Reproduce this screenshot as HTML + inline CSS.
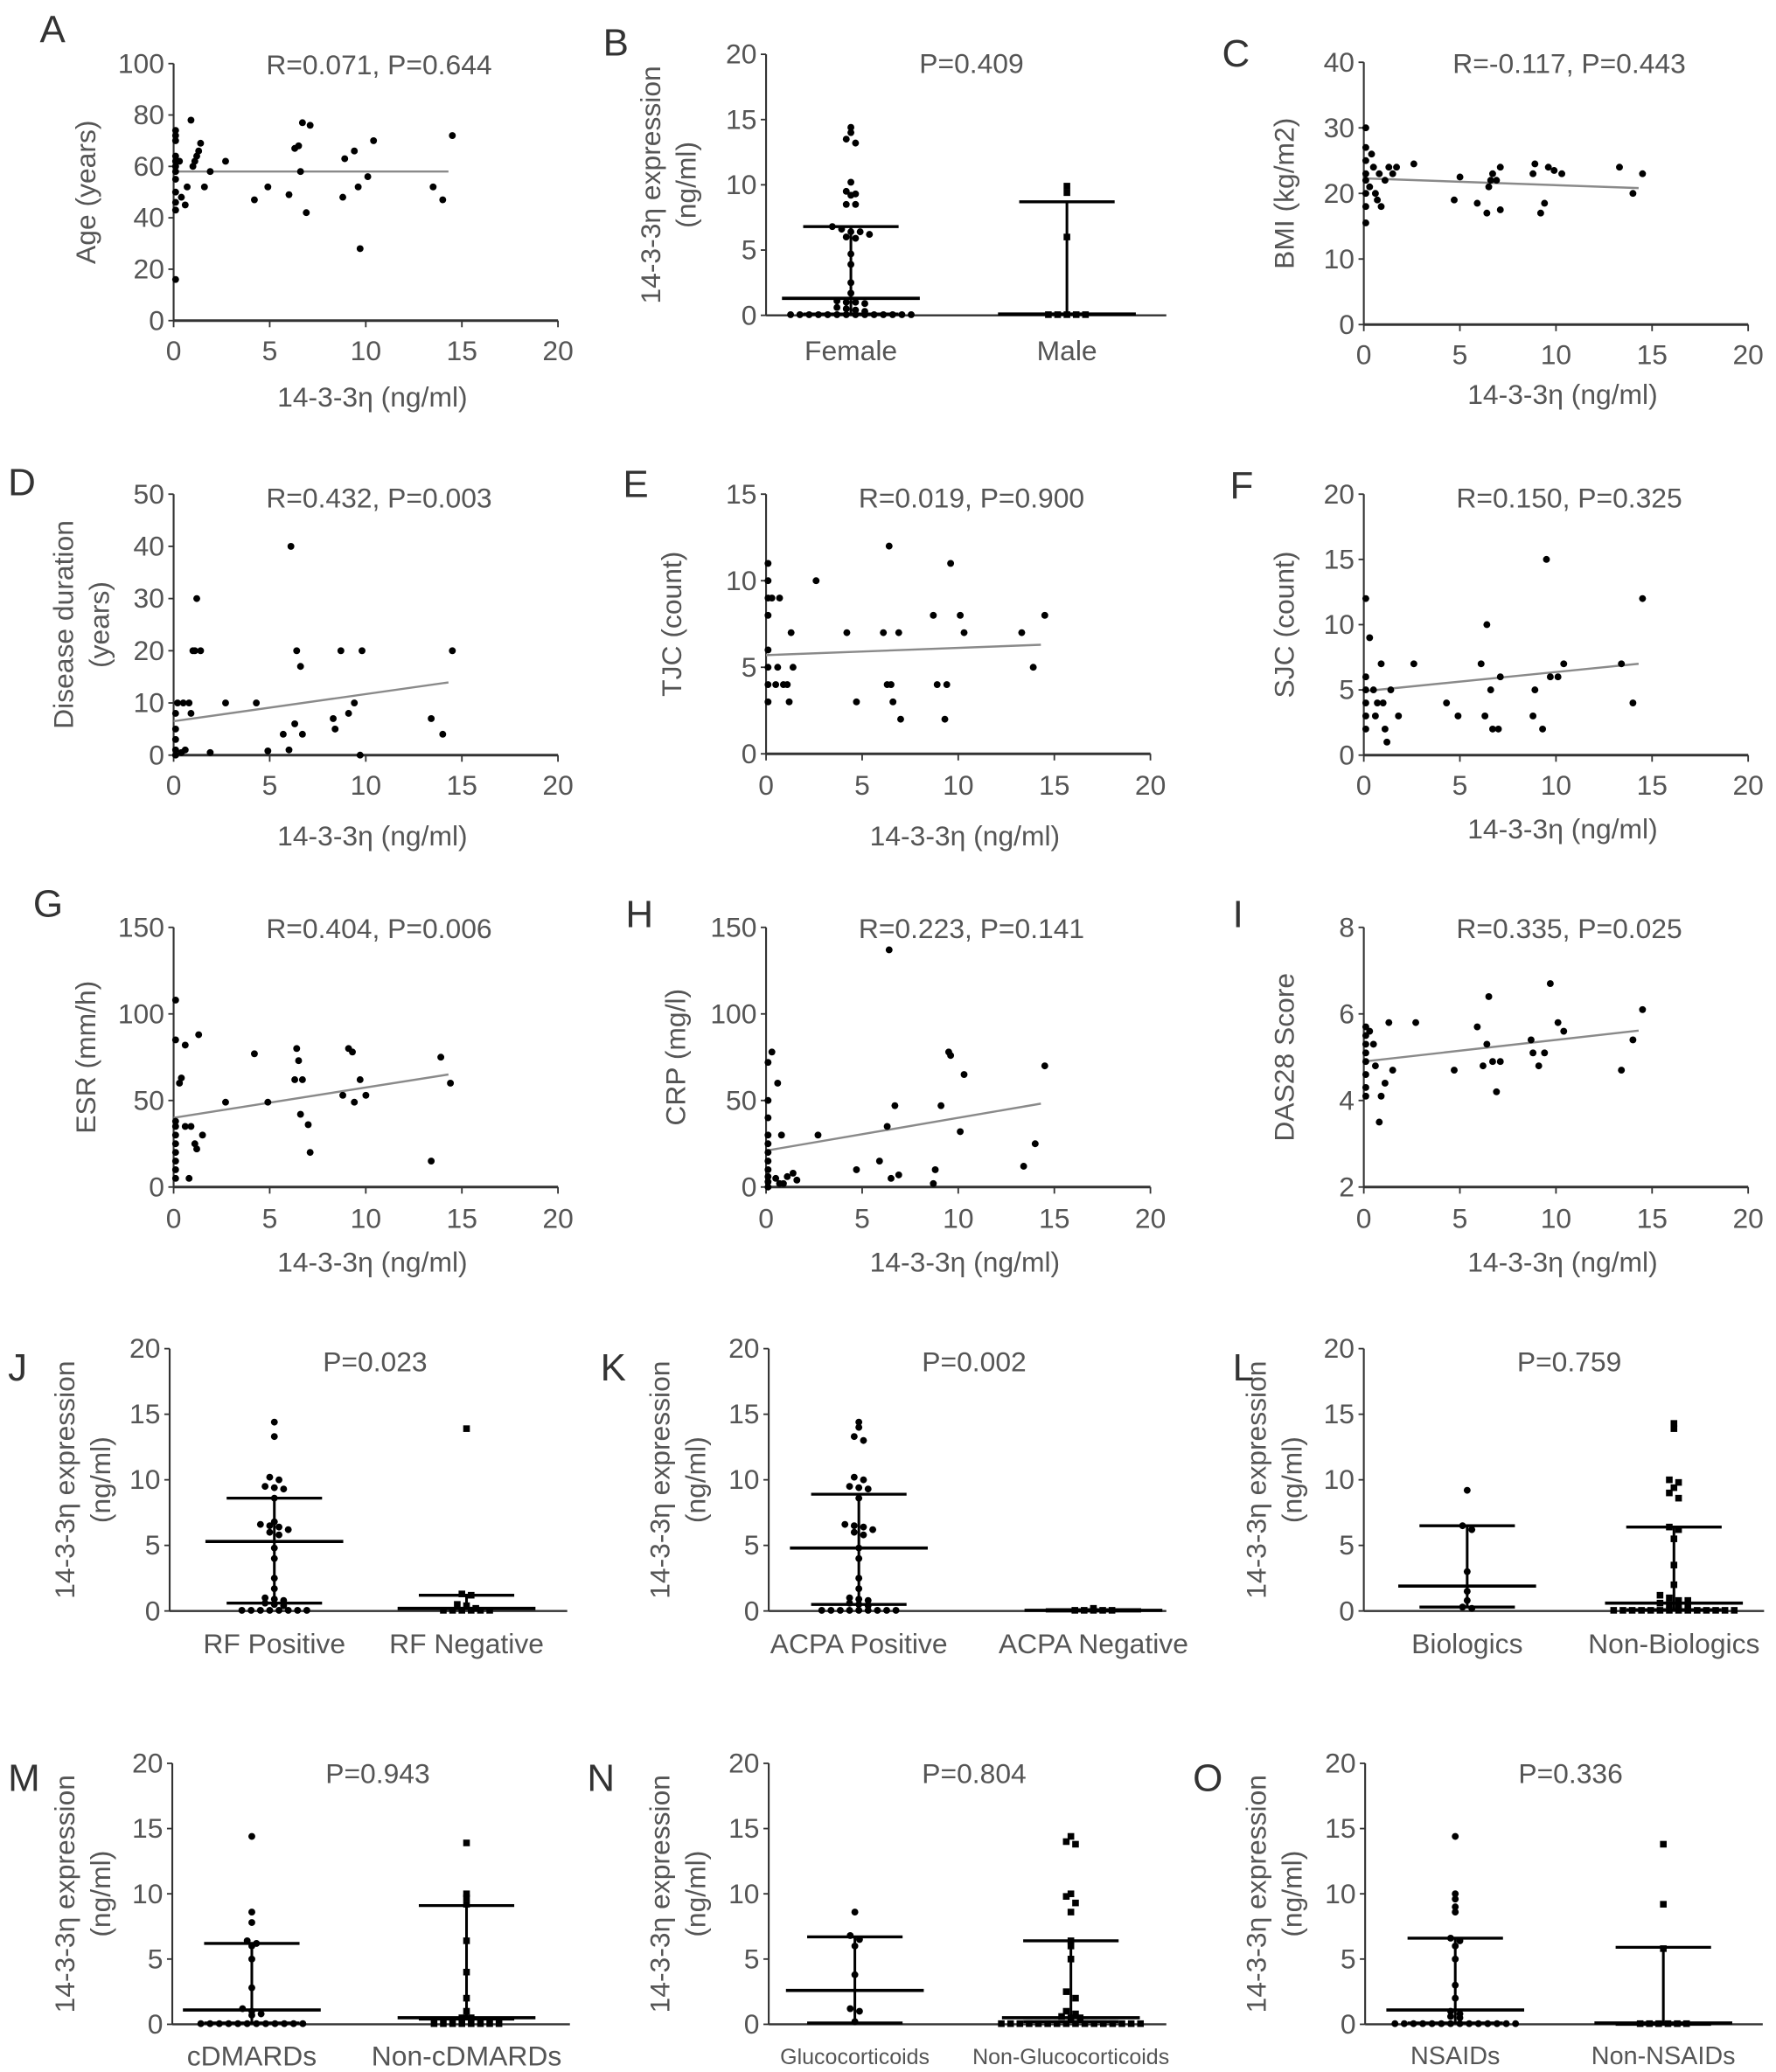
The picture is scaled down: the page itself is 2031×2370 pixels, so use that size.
<!DOCTYPE html>
<html><head><meta charset="utf-8"><style>
html,body{margin:0;padding:0;background:#fff;}
svg{display:block;}
text{font-family:"Liberation Sans",sans-serif;fill:#555;}
</style></head><body>
<svg id="fig" xmlns="http://www.w3.org/2000/svg" width="2031" height="2370" viewBox="0 0 1340 1564" preserveAspectRatio="none"></svg>
<script>
// ---------- data: scatter panels (x = 14-3-3η ng/ml, y = clinical variable) ----------
const ageData=[[0,16],[0,43],[0,46],[0,50],[0,55],[0,58],[0,60],[0,62],[0,64],[0,70],[0,72],[0,74],[0.2,62],[0.3,48],[0.5,45],[0.6,52],[0.8,78],[0.9,60],[1,62],[1.1,64],[1.2,66],[1.3,69],[1.5,52],[1.8,58],[2.6,62],[4.1,47],[4.8,52],[5.9,49],[6.2,67],[6.4,68],[6.5,58],[6.6,77],[6.8,42],[7,76],[8.7,48],[8.8,63],[9.3,66],[9.5,52],[9.6,28],[10,56],[10.3,70],[13.4,52],[13.9,47],[14.4,72]];
const ageFit=[58,0];
const bmiData=[[0,15.5],[0,18],[0,20],[0,22],[0,23],[0,25],[0,27],[0,30],[0.2,21],[0.3,26],[0.4,24],[0.5,20],[0.6,19],[0.7,23],[0.8,18],[1,22],[1.2,24],[1.4,23],[1.6,24],[2.5,24.5],[4.6,19],[4.9,22.5],[5.8,18.5],[6.3,17],[6.4,21],[6.5,22],[6.6,23],[6.8,22],[7,24],[7,17.5],[8.7,23],[8.8,24.5],[9.1,17],[9.3,18.5],[9.5,24],[9.8,23.5],[10.2,23],[13.2,24],[13.9,20],[14.4,23]];
const bmiFit=[22.3,-0.104];
const durData=[[0,0],[0,1],[0,3],[0,5],[0,8],[0.1,10],[0.3,0.5],[0.4,10],[0.5,1],[0.7,10],[0.8,8],[0.9,20],[1,20],[1.1,30],[1.3,20],[1.8,0.5],[2.6,10],[4.2,10],[4.8,0.8],[5.6,4],[5.9,1],[6,40],[6.2,6],[6.3,20],[6.5,17],[6.6,4],[8.2,7],[8.3,5],[8.6,20],[9,8],[9.3,10],[9.7,20],[9.6,0],[13.3,7],[13.9,4],[14.4,20]];
const durFit=[6.5,0.52];
const tjcData=[[0,3],[0,4],[0,5],[0,6],[0,8],[0,9],[0,10],[0,11],[0.2,9],[0.4,4],[0.5,5],[0.6,9],[0.8,4],[1,4],[1.1,3],[1.2,7],[1.3,5],[2.5,10],[4.1,7],[4.6,3],[6,7],[6.2,4],[6.3,12],[6.4,4],[6.5,3],[6.8,7],[6.9,2],[8.6,8],[8.8,4],[9.2,2],[9.3,4],[9.5,11],[10,8],[10.2,7],[13.2,7],[13.8,5],[14.4,8]];
const tjcFit=[5.7,0.042];
const sjcData=[[0,2],[0,3],[0,4],[0,5],[0,6],[0,12],[0.2,9],[0.4,5],[0.5,3],[0.6,4],[0.8,7],[0.9,4],[1,2],[1.1,1],[1.3,5],[1.7,3],[2.5,7],[4.2,4],[4.8,3],[6,7],[6.2,3],[6.3,10],[6.5,5],[6.6,2],[6.9,2],[7,6],[8.7,3],[8.8,5],[9.2,2],[9.4,15],[9.6,6],[10,6],[10.3,7],[13.3,7],[13.9,4],[14.4,12]];
const sjcFit=[4.9,0.147];
const esrData=[[0,5],[0,10],[0,15],[0,20],[0,25],[0,30],[0,35],[0,38],[0,85],[0,108],[0.2,60],[0.3,63],[0.5,35],[0.5,82],[0.7,5],[0.8,35],[1,25],[1.1,22],[1.2,88],[1.4,30],[2.6,49],[4.1,77],[4.8,49],[6.2,62],[6.3,80],[6.4,73],[6.5,42],[6.6,62],[6.9,36],[7,20],[8.7,53],[9,80],[9.2,78],[9.3,49],[9.6,62],[9.9,53],[13.3,15],[13.8,75],[14.3,60]];
const esrFit=[40,1.75];
const crpData=[[0,0],[0,3],[0,6],[0,10],[0,15],[0,20],[0,25],[0,30],[0,40],[0,50],[0,72],[0.2,78],[0.4,5],[0.5,60],[0.6,2],[0.7,30],[0.8,2],[1,6],[1.3,8],[1.5,4],[2.6,30],[4.6,10],[5.8,15],[6.2,35],[6.3,137],[6.4,5],[6.6,47],[6.8,7],[8.6,2],[8.7,10],[9,47],[9.4,78],[9.5,76],[10,32],[10.2,65],[13.3,12],[13.9,25],[14.4,70]];
const crpFit=[21,1.9];
const dasData=[[0,4.1],[0,4.3],[0,4.6],[0,4.9],[0,5.1],[0,5.3],[0,5.5],[0,5.7],[0.2,5.6],[0.4,5.3],[0.5,4.8],[0.7,3.5],[0.8,4.1],[1,4.4],[1.2,5.8],[1.4,4.7],[2.6,5.8],[4.6,4.7],[5.8,5.7],[6.1,4.8],[6.3,5.3],[6.4,6.4],[6.6,4.9],[6.8,4.2],[7,4.9],[8.6,5.4],[8.7,5.1],[9,4.8],[9.3,5.1],[9.6,6.7],[10,5.8],[10.3,5.6],[13.3,4.7],[13.9,5.4],[14.4,6.1]];
const dasFit=[4.9,0.05];
const fitXRange=[0,14.3];

// ---------- data: group panels (values ng/ml; stats = [q1, median, q3]) ----------
const zeros=n=>Array(n).fill(0.05);
const sexCats=["Female","Male"];
const sexVals=[[14.4,14.0,13.5,13.2,10.2,9.5,9.3,9.2,8.5,8.5,6.8,6.6,6.4,6.4,6.2,6.0,5.9,4.7,3.9,2.5,1.7,1.1,1.0,1.0,0.9,0.6,0.5,0.4,0.3].concat(zeros(14)),[9.9,9.4,6.0].concat(zeros(5))];
const sexStats=[[0.1,1.3,6.8],[0.1,0.1,8.7]];
const rfCats=["RF Positive","RF Negative"];
const rfVals=[[14.4,13.3,10.2,10.0,9.5,9.4,9.3,8.6,6.8,6.6,6.5,6.4,6.2,6.0,5.8,4.8,4.0,2.5,1.7,1.0,0.9,0.8,0.6,0.5,0.4].concat(zeros(8)),[13.9,1.3,1.2,0.5,0.4,0.2].concat(zeros(6))];
const rfStats=[[0.6,5.3,8.6],[0.2,0.2,1.2]];
const acpaCats=["ACPA Positive","ACPA Negative"];
const acpaVals=[[14.4,14.0,13.3,13.0,10.2,10.0,9.5,9.4,9.3,8.6,6.6,6.5,6.4,6.2,6.0,5.8,4.8,4.0,2.5,1.7,1.0,0.9,0.8,0.6,0.5,0.4].concat(zeros(9)),[0.2].concat(zeros(5))];
const acpaStats=[[0.5,4.8,8.9],[0,0.05,0.1]];
const bioCats=["Biologics","Non-Biologics"];
const bioVals=[[9.2,6.5,6.2,3.0,1.5,0.8,0.3,0.2],[14.3,13.9,10.0,9.8,9.4,9.0,8.6,6.4,6.2,5.5,3.5,2.0,1.2,1.0,0.8,0.8,0.6,0.5,0.4,0.4].concat(zeros(14))];
const bioStats=[[0.3,1.9,6.5],[0.1,0.6,6.4]];
const dmardCats=["cDMARDs","Non-cDMARDs"];
const dmardVals=[[14.4,8.6,7.8,6.4,6.2,6.0,5.0,2.8,1.2,1.0,0.8,0.7].concat(zeros(12)),[13.9,10.0,9.7,9.2,6.4,4.0,2.0,1.0,0.5,0.5].concat(zeros(8))];
const dmardStats=[[0.1,1.1,6.2],[0.4,0.5,9.1]];
const gcCats=["Glucocorticoids","Non-Glucocorticoids"];
const gcVals=[[8.6,6.8,6.5,6.0,3.8,1.2,1.0,0.2],[14.4,14.0,13.8,10.0,9.8,9.3,8.6,6.4,6.0,5.0,2.5,2.0,1.0,0.8,0.6,0.5,0.5].concat(zeros(16))];
const gcStats=[[0.1,2.6,6.7],[0.2,0.5,6.4]];
const nsaidCats=["NSAIDs","Non-NSAIDs"];
const nsaidVals=[[14.4,10.0,9.6,9.0,8.6,6.6,6.4,6.0,5.0,3.0,2.0,1.0,0.8,0.6,0.5].concat(zeros(14)),[13.8,9.2,5.8].concat(zeros(6))];
const nsaidStats=[[0.1,1.1,6.6],[0,0.1,5.9]];

const pTexts={B:"P=0.409",J:"P=0.023",K:"P=0.002",L:"P=0.759",M:"P=0.943",N:"P=0.804",O:"P=0.336"};

const svg=document.getElementById('fig');
const NS="http://www.w3.org/2000/svg";
function mk(tag,attrs,parent,txt){const e=document.createElementNS(NS,tag);for(const k in attrs)e.setAttribute(k,attrs[k]);if(txt!==undefined)e.textContent=txt;(parent||svg).appendChild(e);return e;}

function yAxis(g,p,ticks){
  const sy=v=>p.yb-(v-p.ymin)/(p.ymax-p.ymin)*(p.yb-p.yt);
  const ax=mk('line',{x1:p.ax,y1:p.yt,x2:p.ax,y2:p.yb,stroke:'#333','stroke-width':1.4},g);
  
  
  ticks.forEach(t=>{
    const tk=mk('line',{x1:p.ax-4,y1:sy(t),x2:p.ax,y2:sy(t),stroke:'#333','stroke-width':1.2},g);
    
    
    const tl=mk('text',{x:p.ax-7,y:sy(t)+7,'text-anchor':'end','font-size':21},g,String(t));
    
    
  });
  const cy=(p.yt+p.yb)/2;
  p.ytitle.forEach((s,i)=>{
    const x=p.ytx+i*27;
    const t=mk('text',{x:x,y:cy,'text-anchor':'middle','font-size':21,transform:`rotate(-90 ${x} ${cy})`},g,s);
    
    
  });
  return sy;
}
function common(g,p){
  const l=mk('text',{x:p.lx,y:p.ly,'font-size':29,style:'fill:#333'},g,p.id);
  
  
  const t=mk('text',{x:p.ax+155,y:p.ty,'text-anchor':'middle','font-size':21},g,p.title);
  
  
}

function scatter(p,data,fit,ticks){
  const g=mk('g',{});
  
  
  common(g,p);
  const sy=yAxis(g,p,ticks);
  const sx=v=>p.ax+v/20*290;
  const xl=mk('line',{x1:p.ax,y1:p.yb,x2:sx(20),y2:p.yb,stroke:'#333','stroke-width':2},g);
  
  
  [0,5,10,15,20].forEach(t=>{
    const tk=mk('line',{x1:sx(t),y1:p.yb,x2:sx(t),y2:p.yb+5,stroke:'#333','stroke-width':1.2},g);
    
    
    const tl=mk('text',{x:sx(t),y:p.xty,'text-anchor':'middle','font-size':21},g,String(t));
    
    
  });
  const xt=mk('text',{x:p.ax+150,y:p.xtt,'text-anchor':'middle','font-size':21},g,'14-3-3η (ng/ml)');
  
  
  const fl=mk('line',{x1:sx(fitXRange[0]),y1:sy(fit[0]+fit[1]*fitXRange[0]),x2:sx(fitXRange[1]),y2:sy(fit[0]+fit[1]*fitXRange[1]),stroke:'#8a8a8a','stroke-width':1.6},g);
  
  
  data.forEach(d=>{
    const c=mk('circle',{cx:sx(d[0])+1.5,cy:sy(d[1]),r:2.6,fill:'#000'},g);
    
    
  });
}

function groups(p,cats,vals,stats){
  const g=mk('g',{});
  
  
  p.title=pTexts[p.id];
  common(g,p);
  const sy=yAxis(g,p,[0,5,10,15,20]);
  const xl=mk('line',{x1:p.ax,y1:p.yb,x2:p.ax+p.xlen,y2:p.yb,stroke:'#333','stroke-width':1.6},g);
  
  
  cats.forEach((c,gi)=>{
    const cx=p.cx[gi];
    const lab=mk('text',{x:cx,y:p.cly,'text-anchor':'middle','font-size':p.cfs||21},g,c);
    
    
    // beeswarm
    const bins={};
    vals[gi].forEach(v=>{const k=Math.round(sy(v)/6);(bins[k]=bins[k]||[]).push(v);});
    Object.keys(bins).forEach(k=>{
      const arr=bins[k];
      arr.forEach((v,i)=>{
        const x=cx+(i-(arr.length-1)/2)*7;
        let m;
        if(gi===0){m=mk('circle',{cx:x,cy:sy(v),r:2.6,fill:'#000'},g);}
        else{m=mk('rect',{x:x-2.5,y:sy(v)-2.5,width:5,height:5,fill:'#000'},g);}
        
        
      });
    });
    const [q1,med,q3]=stats[gi];
    const w=mk('line',{x1:cx,y1:sy(q1),x2:cx,y2:sy(q3),stroke:'#000','stroke-width':2},g);
    
    
    [q1,q3].forEach(q=>{
      const cap=mk('line',{x1:cx-36,y1:sy(q),x2:cx+36,y2:sy(q),stroke:'#000','stroke-width':2.2},g);
      
      
    });
    const ml=mk('line',{x1:cx-52,y1:sy(med),x2:cx+52,y2:sy(med),stroke:'#000','stroke-width':2.4},g);
    
    
  });
}

const ytExpr=["14-3-3η expression","(ng/ml)"];
// scatter panels
scatter({id:'A',lx:30,ly:32,ax:131,yb:242,yt:48,ymin:0,ymax:100,ty:56,xty:272,xtt:307,ytx:72,ytitle:["Age (years)"],title:"R=0.071, P=0.644"},ageData,ageFit,[0,20,40,60,80,100]);
scatter({id:'C',lx:922,ly:50,ax:1029,yb:245,yt:47,ymin:0,ymax:40,ty:55,xty:275,xtt:305,ytx:976,ytitle:["BMI (kg/m2)"],title:"R=-0.117, P=0.443"},bmiData,bmiFit,[0,10,20,30,40]);
scatter({id:'D',lx:6,ly:374,ax:131,yb:570,yt:373,ymin:0,ymax:50,ty:383,xty:600,xtt:638,ytx:55,ytitle:["Disease duration","(years)"],title:"R=0.432, P=0.003"},durData,durFit,[0,10,20,30,40,50]);
scatter({id:'E',lx:470,ly:375,ax:578,yb:569,yt:373,ymin:0,ymax:15,ty:383,xty:600,xtt:638,ytx:514,ytitle:["TJC (count)"],title:"R=0.019, P=0.900"},tjcData,tjcFit,[0,5,10,15]);
scatter({id:'F',lx:928,ly:376,ax:1029,yb:570,yt:373,ymin:0,ymax:20,ty:383,xty:600,xtt:633,ytx:976,ytitle:["SJC (count)"],title:"R=0.150, P=0.325"},sjcData,sjcFit,[0,5,10,15,20]);
scatter({id:'G',lx:25,ly:692,ax:131,yb:896,yt:700,ymin:0,ymax:150,ty:708,xty:927,xtt:960,ytx:72,ytitle:["ESR (mm/h)"],title:"R=0.404, P=0.006"},esrData,esrFit,[0,50,100,150]);
scatter({id:'H',lx:472,ly:700,ax:578,yb:896,yt:700,ymin:0,ymax:150,ty:708,xty:927,xtt:960,ytx:517,ytitle:["CRP (mg/l)"],title:"R=0.223, P=0.141"},crpData,crpFit,[0,50,100,150]);
scatter({id:'I',lx:930,ly:700,ax:1029,yb:896,yt:700,ymin:2,ymax:8,ty:708,xty:927,xtt:960,ytx:976,ytitle:["DAS28 Score"],title:"R=0.335, P=0.025"},dasData,dasFit,[2,4,6,8]);
// group panels
groups({id:'B',lx:455,ly:42,ax:578,yb:238,yt:41,ymin:0,ymax:20,ty:55,xlen:302,cx:[642,805],cly:272,ytx:498,ytitle:ytExpr},sexCats,sexVals,sexStats);
groups({id:'J',lx:6,ly:1042,ax:128,yb:1216,yt:1018,ymin:0,ymax:20,ty:1035,xlen:300,cx:[207,352],cly:1248,ytx:56,ytitle:ytExpr},rfCats,rfVals,rfStats);
groups({id:'K',lx:453,ly:1042,ax:580,yb:1216,yt:1018,ymin:0,ymax:20,ty:1035,xlen:300,cx:[648,825],cly:1248,ytx:505,ytitle:ytExpr},acpaCats,acpaVals,acpaStats);
groups({id:'L',lx:930,ly:1042,ax:1029,yb:1216,yt:1018,ymin:0,ymax:20,ty:1035,xlen:302,cx:[1107,1263],cly:1248,ytx:955,ytitle:ytExpr},bioCats,bioVals,bioStats);
groups({id:'M',lx:6,ly:1352,ax:130,yb:1528,yt:1331,ymin:0,ymax:20,ty:1346,xlen:300,cx:[190,352],cly:1559,ytx:56,ytitle:ytExpr},dmardCats,dmardVals,dmardStats);
groups({id:'N',lx:443,ly:1352,ax:580,yb:1528,yt:1331,ymin:0,ymax:20,ty:1346,xlen:300,cx:[645,808],cly:1558,cfs:16.5,ytx:505,ytitle:ytExpr},gcCats,gcVals,gcStats);
groups({id:'O',lx:900,ly:1352,ax:1030,yb:1528,yt:1331,ymin:0,ymax:20,ty:1346,xlen:300,cx:[1098,1255],cly:1558,cfs:19,ytx:955,ytitle:ytExpr},nsaidCats,nsaidVals,nsaidStats);
</script>
</body></html>
